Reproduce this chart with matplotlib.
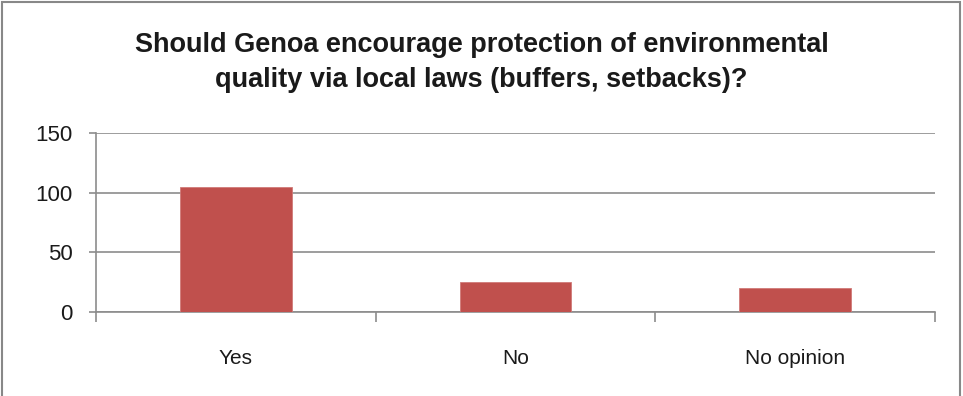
import numpy as np
import matplotlib.pyplot as plt
from matplotlib.patches import Rectangle

categories = ['Yes', 'No', 'No opinion']
counts = [105, 25, 20]
yticks = [0, 50, 100, 150]
title_lines = ['Should Genoa encourage protection of environmental',
               'quality via local laws (buffers, setbacks)?']

plt.rcParams['font.family'] = ['Liberation Sans', 'DejaVu Sans']

fig = plt.figure(figsize=(9.63, 3.96), dpi=100)
ax = fig.add_axes([96/963, 84/396, 839/963, 179/396])

x = np.arange(len(categories))
ax.bar(x, counts, width=0.4, color='#C0504D', edgecolor='#D07A78', linewidth=0.6, zorder=3)

ax.set_xlim(-0.5, len(categories) - 0.5)
ax.set_ylim(0, 150)
ax.set_yticks(yticks)
ax.set_yticklabels([str(v) for v in yticks], fontsize=16, color='#1a1a1a')
ax.yaxis.grid(True, color='#8C8C8C', linewidth=1.2, zorder=0)

# category labels centered, tick marks at category boundaries
ax.set_xticks(np.arange(-0.5, len(categories)))
ax.set_xticklabels([])
ax.set_xticks(x, minor=True)
ax.set_xticklabels(categories, minor=True, fontsize=15, color='#1a1a1a')
ax.tick_params(axis='x', which='minor', length=0, pad=27)
ax.tick_params(axis='x', which='major', length=7, width=1.2, color='#8C8C8C')
ax.tick_params(axis='y', length=5, width=1.2, color='#8C8C8C', pad=12)

for s in ['top', 'right']:
    ax.spines[s].set_visible(False)
for s in ['left', 'bottom']:
    ax.spines[s].set_color('#8C8C8C')
    ax.spines[s].set_linewidth(1.2)

fig.text(0.5, 1 - 52/396, title_lines[0], ha='center', va='baseline',
         fontsize=19.5, fontweight='bold', color='#1a1a1a')
fig.text(0.5, 1 - 87/396, title_lines[1], ha='center', va='baseline',
         fontsize=19.5, fontweight='bold', color='#1a1a1a')

# outer frame
fig.patches.append(Rectangle((1.5/963, -0.1), 958/963, 1.1 - 2.5/396, transform=fig.transFigure,
                             fill=False, edgecolor='#888888', linewidth=1.5))

fig.savefig('out.png', dpi=100)
